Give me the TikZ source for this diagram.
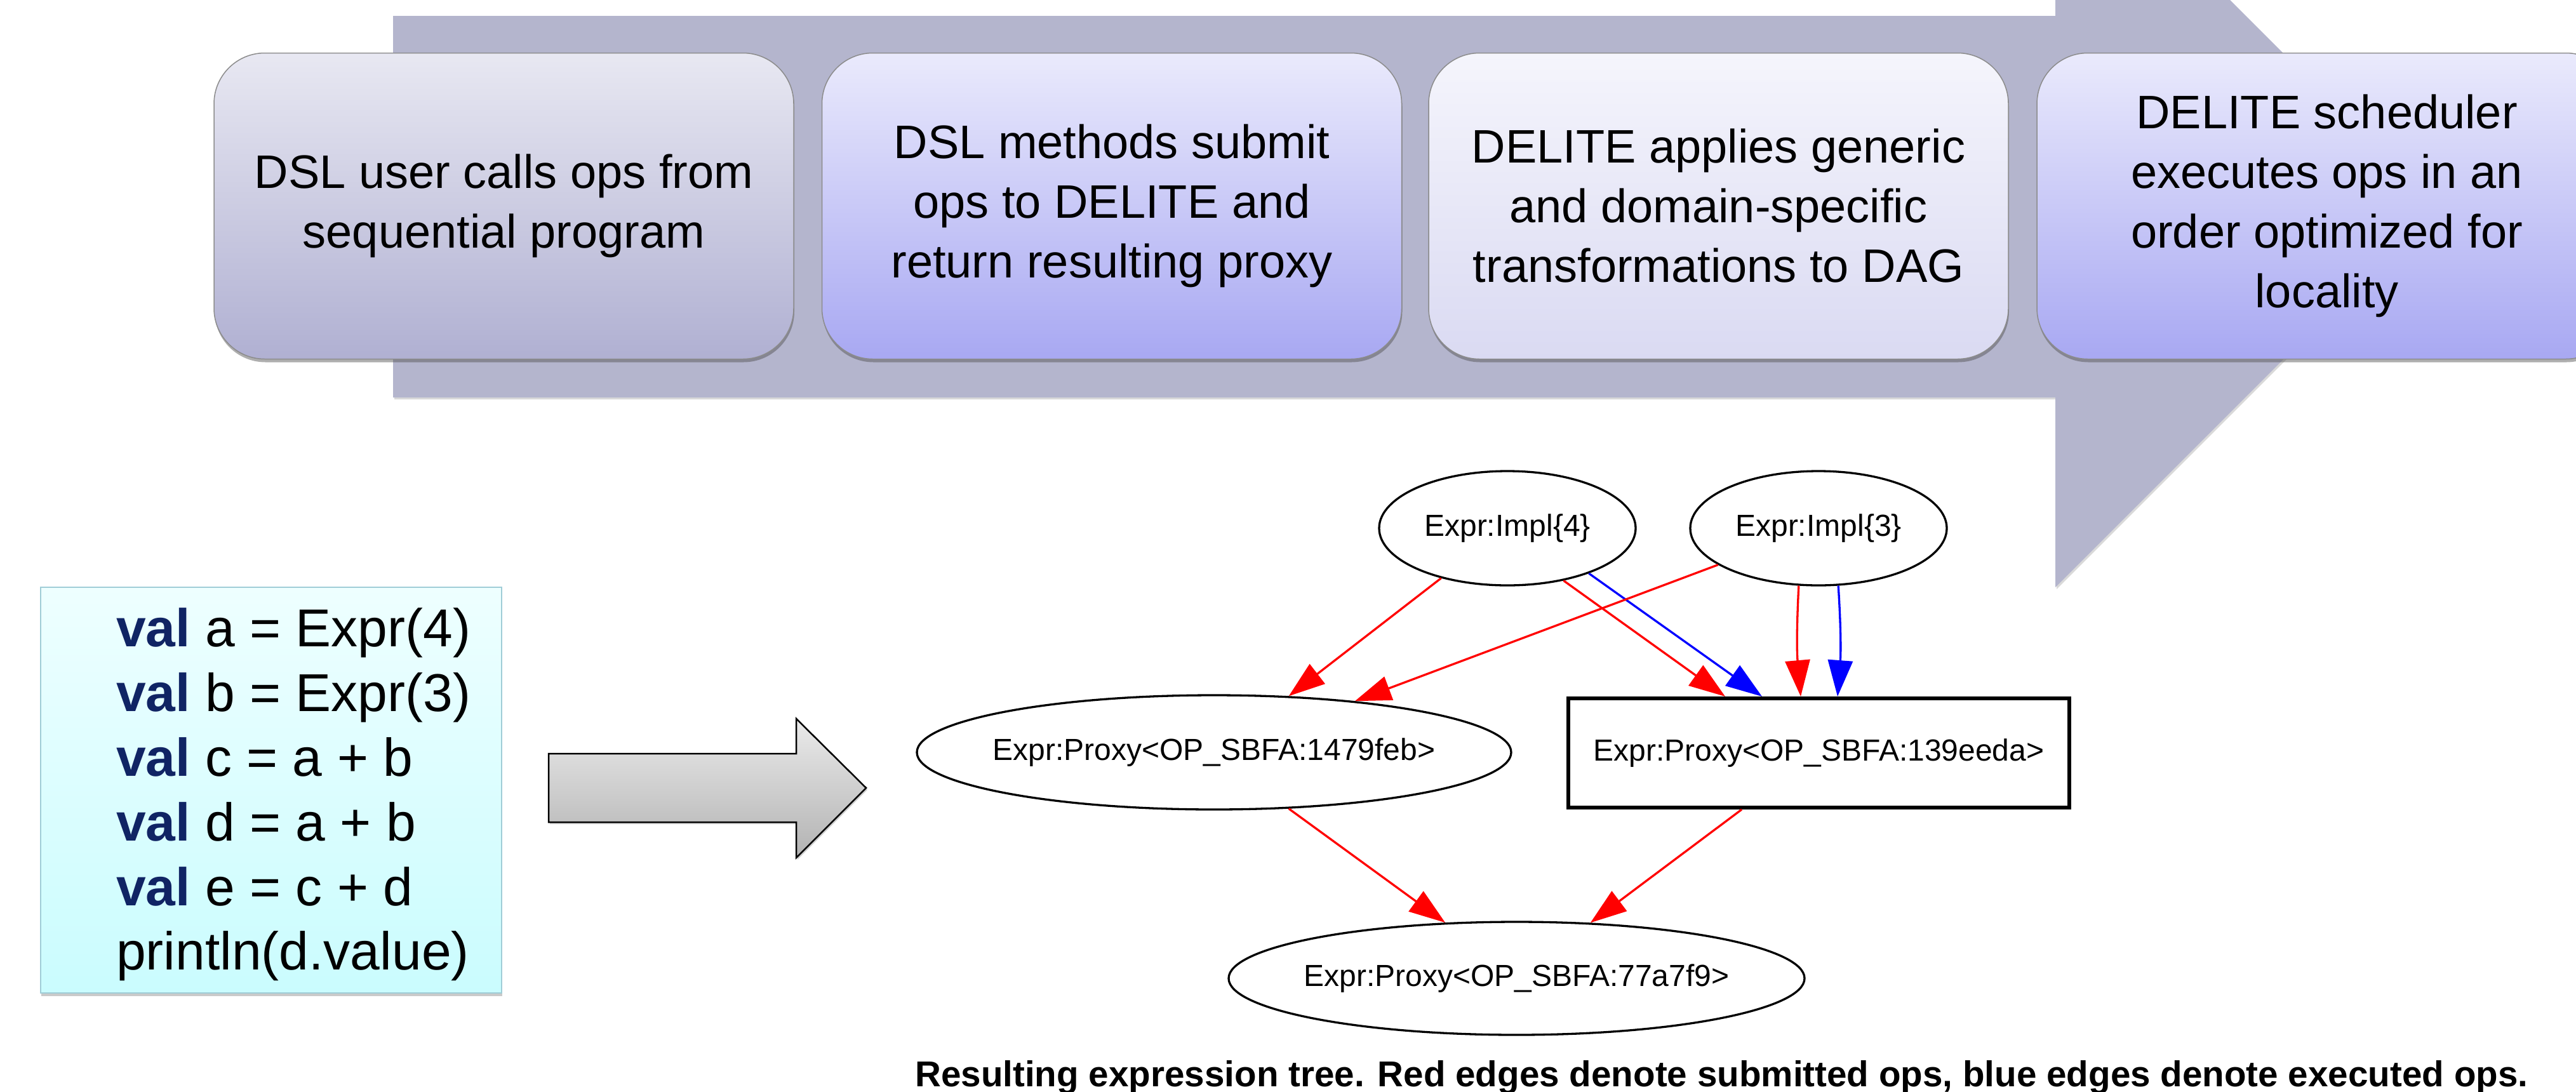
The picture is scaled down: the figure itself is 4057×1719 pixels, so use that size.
\documentclass[tikz,border=0pt]{standalone}
\usepackage{fontspec}
\setmainfont{Liberation Sans}
\usetikzlibrary{arrows.meta,shadows,shapes.geometric}
\definecolor{bigarrow}{RGB}{180,181,205}
\definecolor{boxAtop}{RGB}{232,232,242}
\definecolor{boxAbot}{RGB}{176,176,210}
\definecolor{boxBtop}{RGB}{234,234,252}
\definecolor{boxBbot}{RGB}{168,168,242}
\definecolor{boxCtop}{RGB}{245,245,252}
\definecolor{boxCbot}{RGB}{218,218,242}
\definecolor{codetop}{RGB}{238,255,255}
\definecolor{codebot}{RGB}{202,252,254}
\definecolor{codeborder}{RGB}{160,205,215}
\definecolor{valblue}{RGB}{16,36,100}
\begin{document}
\begin{tikzpicture}[x=1pt,y=-1pt,
  stepbox/.style={rectangle, rounded corners=80pt, minimum width=913pt, minimum height=482pt,
    draw=black!45, line width=1.5pt, align=center, inner sep=0pt,
    font=\fontsize{74}{94}\selectfont,
    drop shadow={shadow xshift=1pt, shadow yshift=-5pt, opacity=.45, fill=black!70}},
  codeline/.style={anchor=base west, inner sep=0pt, font=\fontsize{84}{100}\selectfont},
  gnode/.style={draw, line width=3.3pt, inner sep=0pt, font=\fontsize{48}{58}\selectfont},
  oval/.style={gnode, ellipse, inner xsep=-20pt},
  redge/.style={draw=red, line width=3.3pt, -{Triangle[length=57pt,width=39pt]}},
  bedge/.style={draw=blue, line width=3.3pt, -{Triangle[length=57pt,width=39pt]}}
]
\useasboundingbox (0,0) rectangle (4057,1719);

% big background arrow
\path[fill=bigarrow, drop shadow={shadow xshift=2pt, shadow yshift=-3pt, opacity=.25, fill=black!60}]
  (619,25) -- (3237,25) -- (3237,-275) -- (3837,325) -- (3237,925) -- (3237,626) -- (619,626) -- cycle;

% process boxes
\node[stepbox, top color=boxAtop, bottom color=boxAbot] (s1) at (793.5,324.5)
  {DSL user calls ops from\\sequential program};
\node[stepbox, top color=boxBtop, bottom color=boxBbot] (s2) at (1751,324.5)
  {DSL methods submit\\ops to DELITE and\\return resulting proxy};
\node[stepbox, top color=boxCtop, bottom color=boxCbot] (s3) at (2706.5,324.5)
  {DELITE applies generic\\and domain-specific\\transformations to DAG};
\node[stepbox, top color=boxBtop, bottom color=boxBbot] (s4) at (3664.5,324.5)
  {DELITE scheduler\\executes ops in an\\order optimized for\\locality};

% code box
\node[rectangle, draw=codeborder, line width=1.5pt, top color=codetop, bottom color=codebot,
  minimum width=726pt, minimum height=639pt, inner sep=0pt,
  drop shadow={shadow xshift=1pt, shadow yshift=-5pt, opacity=.35, fill=black!60}] (code) at (427,1244.5) {};
\node[codeline] (c1) at (183,1018) {\textbf{\color{valblue}val} a = Expr(4)};
\node[codeline] (c2) at (183,1120) {\textbf{\color{valblue}val} b = Expr(3)};
\node[codeline] (c3) at (183,1222) {\textbf{\color{valblue}val} c = a + b};
\node[codeline] (c4) at (183,1324) {\textbf{\color{valblue}val} d = a + b};
\node[codeline] (c5) at (183,1426) {\textbf{\color{valblue}val} e = c + d};
\node[codeline] (c6) at (183,1527) {println(d.value)};

% small block arrow
\path[draw=black, line width=2.5pt, top color=black!8, bottom color=black!30,
  drop shadow={shadow xshift=2pt, shadow yshift=-3pt, opacity=.3, fill=black!60}]
  (864,1187) -- (1254,1187) -- (1254,1132) -- (1364,1241) -- (1254,1351) -- (1254,1295) -- (864,1295) -- cycle;

% graph
\node[oval, minimum width=404pt, minimum height=180pt] (i4) at (2374,832) {Expr:Impl\{4\}};
\node[oval, minimum width=404pt, minimum height=180pt] (i3) at (2864,832) {Expr:Impl\{3\}};
\node[oval, minimum width=936pt, minimum height=180pt] (pl) at (1912,1185) {Expr:Proxy<OP\_SBFA:1479feb>};
\node[gnode, rectangle, line width=6pt, minimum width=789pt, minimum height=172pt] (pr) at (2864.5,1186) {Expr:Proxy<OP\_SBFA:139eeda>};
\node[oval, minimum width=907pt, minimum height=178pt] (pb) at (2388.5,1541) {Expr:Proxy<OP\_SBFA:77a7f9>};

\draw[redge] (i4.217) -- (pl.37.6);
\draw[redge] (i4.-43.6) -- ([xshift=-147.5pt]pr.north);
\draw[bedge] (i4.-29.4) -- ([xshift=-89.5pt]pr.north);
\draw[redge] (i3.200.6) -- (pl.20.85);
\draw[redge] (i3.251.8) to[bend right=4] ([xshift=-28.5pt]pr.north);
\draw[bedge] (i3.-71.8) to[bend left=4] ([xshift=29.5pt]pr.north);
\draw[redge] (pl.-37.1) -- (pb.142.2);
\draw[redge] ([xshift=-121.5pt]pr.south) -- (pb.37.3);

% caption
\node[anchor=base west, inner sep=0pt, font=\fontsize{56.6}{68}\selectfont\bfseries] (cap) at (1441,1711)
  {Resulting expression tree. Red edges denote submitted ops, blue edges denote executed ops.};
\end{tikzpicture}
\end{document}
